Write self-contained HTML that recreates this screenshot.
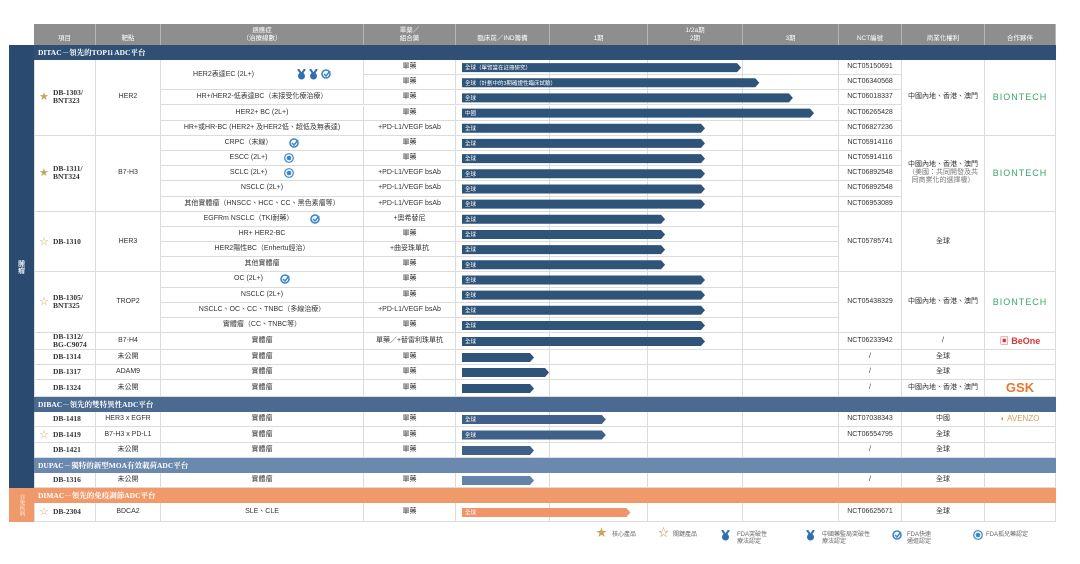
<!DOCTYPE html>
<html><head><meta charset="utf-8">
<style>
html,body{margin:0;padding:0;background:#fff;}
#root{position:relative;width:1080px;height:564px;overflow:hidden;background:#fff;font-family:"Liberation Sans","Noto Sans CJK TC",sans-serif;color:#333;}
.c{position:absolute;box-sizing:border-box;border-right:1px solid #dcdcdc;border-bottom:1px solid #dcdcdc;display:flex;align-items:center;justify-content:center;text-align:center;font-size:7px;line-height:8px;white-space:nowrap;}
.h{position:absolute;box-sizing:border-box;background:#8e8e8e;color:#fff;border-right:1px solid #b5b5b5;display:flex;flex-direction:column;align-items:center;justify-content:flex-end;padding-bottom:3px;font-size:6.5px;line-height:7.5px;text-align:center;}
.band{position:absolute;color:#fff;font-family:"Liberation Serif","Noto Serif CJK SC",serif;font-weight:bold;font-size:7.5px;display:flex;align-items:center;padding-left:4px;box-sizing:border-box;}
.item{font-family:"Liberation Serif",serif;font-weight:bold;font-size:7.5px;text-align:left;justify-content:flex-start;padding-left:18px;}
.leg{position:absolute;font-size:6px;line-height:7px;color:#666;}
</style></head>
<body>
<div id="root">
<svg id="bars" width="1080" height="564" style="position:absolute;left:0;top:0;z-index:2;pointer-events:none"></svg>
</div>
<script>
// ---- data ----
const indications=["HER2表達EC (2L+)","","HR+/HER2-低表達BC（未接受化療治療）","HER2+ BC (2L+)","HR+或HR-BC (HER2+ 及HER2低、超低及無表達)","CRPC（末線）","ESCC (2L+)","SCLC (2L+)","NSCLC (2L+)","其他實體瘤（HNSCC、HCC、CC、黑色素瘤等）","EGFRm NSCLC（TKI耐藥）","HR+ HER2-BC","HER2陽性BC（Enhertu經治）","其他實體瘤","OC (2L+)","NSCLC (2L+)","NSCLC、OC、CC、TNBC（多線治療）","實體瘤（CC、TNBC等）","實體瘤","實體瘤","實體瘤","實體瘤","實體瘤","實體瘤","實體瘤","實體瘤","SLE、CLE"];
const combos=["單藥","單藥","單藥","單藥","+PD-L1/VEGF bsAb","單藥","單藥","+PD-L1/VEGF bsAb","+PD-L1/VEGF bsAb","+PD-L1/VEGF bsAb","+奧希替尼","單藥","+曲妥珠單抗","單藥","單藥","單藥","+PD-L1/VEGF bsAb","單藥","單藥／+替雷利珠單抗","單藥","單藥","單藥","單藥","單藥","單藥","單藥","單藥"];
const barLabels=["全球（單臂當在註冊研究）","全球（計劃中的3期確證性臨床試驗）","全球","中國","全球","全球","全球","全球","全球","全球","全球","全球","全球","全球","全球","全球","全球","全球","全球","","","","全球","全球","","","全球"];
const barValues=[2.98,3.17,3.52,3.74,2.60,2.60,2.60,2.60,2.60,2.60,2.18,2.18,2.18,2.18,2.60,2.60,2.60,2.60,2.60,0.83,0.99,0.83,1.57,1.57,0.83,0.83,1.82];
const nctIds=["NCT05150691","NCT06340568","NCT06018337","NCT06265428","NCT06827236","NCT05914116","NCT05914116","NCT06892548","NCT06892548","NCT06953089","NCT05785741","","","","NCT05438329","","","","NCT06233942","/","/","/","NCT07038343","NCT06554795","/","/","NCT06625671"];
const phaseHeaders=["臨床前／IND籌備","1期","1/2a期<br>2期","3期"];
// ---- layout ----
const colX=[34,96,161,364,456,550,648,743,839,902,985,1056];
const phaseEdges=[456,550,648,743,839];
function px(v){const i=Math.min(3,Math.floor(v));return phaseEdges[i]+(v-i)*(phaseEdges[i+1]-phaseEdges[i]);}
const seq=["B0"];for(let i=0;i<18;i++)seq.push(15.17);seq.push(17,15,15,17,"B1",15,16,15,"B2",15,"B3",19);
const bands=[["DITAC－領先的TOP1i ADC平台","#2f4f74"],["DIBAC－領先的雙特異性ADC平台","#4a6a92"],["DUPAC－獨特的新型MOA有效載荷ADC平台","#6b89ae"],["DIMAC－領先的免疫調節ADC平台","#f09a6c"]];
const barColor=i=>i>=26?"#f0956a":i>=25?"#6283aa":i>=22?"#3f6189":"#2f5479";
const root=document.getElementById('root'),svg=document.getElementById('bars');
function div(cls,x,y,w,h,html){const d=document.createElement('div');d.className=cls;d.style.left=x+'px';d.style.top=y+'px';d.style.width=w+'px';d.style.height=h+'px';d.innerHTML=html||'';root.appendChild(d);return d;}
// header
const hdr=["項目","靶點","適應症<br>（治療線數）","單藥／<br>組合藥",phaseHeaders[0],phaseHeaders[1],phaseHeaders[2],phaseHeaders[3],"NCT編號","商業化權利","合作夥伴"];
for(let i=0;i<11;i++){const d=div('h',colX[i],24,colX[i+1]-colX[i],21,hdr[i]);

}
// rows
const rowY=[],rowH=[];let y=45;
for(const s of seq){if(typeof s==='string'){const b=bands[+s[1]];const d=div('band',34,y,1022,15,b[0]);d.style.background=b[1];


y+=15;}else{rowY.push(y);rowH.push(s);y+=s;}}
// left side bars
let d=div('band',9,45,25,443,'');d.style.background='#2b4a70';d.style.padding='0';d.style.justifyContent='center';d.style.writingMode='vertical-rl';d.style.fontSize='7px';d.innerHTML='腫瘤';


d=div('band',9,488,25,34,'自免疾病');d.style.background='#f09a6c';d.style.padding='0';d.style.justifyContent='center';d.style.writingMode='vertical-rl';d.style.fontSize='5.5px';d.style.fontWeight='normal';


function span(col,r0,r1,html,cls){const x=colX[col],yy=rowY[r0],h=rowY[r1]+rowH[r1]-yy;const e=div('c'+(cls?' '+cls:''),x,yy,colX[col+1]-x,h,html);if(col===0)e.style.borderLeft='1px solid #dcdcdc';return e;}
const STAR='<span style="position:absolute;left:4px;color:#c8a45a;font-size:11px;font-weight:normal">★</span>';
const OSTAR='<span style="position:absolute;left:4px;color:#c8a45a;font-size:11px;font-weight:normal">☆</span>';
const groups=[[0,4,STAR+"<div>DB-1303/<br>BNT323</div>","HER2"],[5,9,STAR+"<div>DB-1311/<br>BNT324</div>","B7-H3"],[10,13,OSTAR+"DB-1310","HER3"],[14,17,OSTAR+"<div>DB-1305/<br>BNT325</div>","TROP2"],[18,18,"<div>DB-1312/<br>BG-C9074</div>","B7-H4"],[19,19,"DB-1314","未公開"],[20,20,"DB-1317","ADAM9"],[21,21,"DB-1324","未公開"],[22,22,"DB-1418","HER3 x EGFR"],[23,23,OSTAR+"DB-1419","B7-H3 x PD-L1"],[24,24,"DB-1421","未公開"],[25,25,"DB-1316","未公開"],[26,26,OSTAR+"DB-2304","BDCA2"]];
const BION='<span style="font-family:Liberation Sans,sans-serif;font-size:9px;letter-spacing:1px;color:#3aa66a">BIONTECH</span>';
const rights=[[0,4,"中國內地、香港、澳門",BION],[5,9,"<div>中國內地、香港、澳門<br><span style='color:#777'>（美國：共同開發及共<br>同商業化的選擇權）</span></div>",BION],[10,13,"全球",""],[14,17,"中國內地、香港、澳門",BION],[18,18,"/",'<span style="color:#d33;font-weight:bold;font-size:9px">▣ BeOne</span>'],[19,19,"全球",""],[20,20,"全球",""],[21,21,"中國內地、香港、澳門",'<span style="color:#e8772e;font-weight:bold;font-size:13px">GSK</span>'],[22,22,"中國",'<span style="color:#c9a05a;font-size:8px">◐ AVENZO</span>'],[23,23,"全球",""],[24,24,"全球",""],[25,25,"全球",""],[26,26,"全球",""]];
for(const g of groups){let e=span(0,g[0],g[1],g[2],'item');


e=span(1,g[0],g[1],g[3]);

}
for(const r of rights){let e=span(9,r[0],r[1],r[2]);


e=span(10,r[0],r[1],r[3]);

}
// icons
const MEDAL='<svg width="9" height="11" style="margin-left:3px"><path d="M1 0L4.5 5L8 0" fill="none" stroke="#2f6fb0" stroke-width="2"/><circle cx="4.5" cy="7" r="3.5" fill="#2f6fb0"/></svg>';
const CHECK='<svg width="10" height="10" style="margin-left:3px"><circle cx="5" cy="5" r="4" fill="none" stroke="#3a86c8" stroke-width="1.6"/><path d="M3 5L5 7L9 2" fill="none" stroke="#3a86c8" stroke-width="1.5"/></svg>';
const TARGET='<svg width="10" height="10" style="margin-left:3px"><circle cx="5" cy="5" r="4.3" fill="none" stroke="#3a86c8" stroke-width="1.2"/><circle cx="5" cy="5" r="2.3" fill="#3a86c8"/></svg>';
const icons={0:MEDAL+MEDAL+CHECK,5:CHECK,6:TARGET,7:TARGET,10:CHECK,14:CHECK};
for(let i=0;i<27;i++){
 if(i===1)continue;
 const e=span(2,i,i===0?1:i,indications[i]+(icons[i]?'<span style="margin-left:14px;display:inline-flex">'+icons[i]+'</span>':''));
 if(i===0)e.innerHTML=indications[0]+'<span style="margin-left:40px;display:inline-flex">'+icons[0]+'</span>';
 
 
}
for(let i=0;i<27;i++){
 let e=span(3,i,i,combos[i]);
 
 
 for(let p=4;p<8;p++){const c=span(p,i,i,'');
 
 }
 if(nctIds[i]!==''){let r1=i;if(i===10)r1=13;if(i===14)r1=17;
 e=span(8,i,r1,nctIds[i]);
 
 }
}
// bars
const NS='http://www.w3.org/2000/svg';
for(let i=0;i<barValues.length;i++){
 const x0=462,x1=px(barValues[i]),ym=rowY[i]+rowH[i]/2,y0=ym-4.5,y1=ym+4.5;
 const pg=document.createElementNS(NS,'polygon');
 pg.setAttribute('points',`${x0},${y0} ${x1-4},${y0} ${x1},${ym} ${x1-4},${y1} ${x0},${y1}`);
 pg.setAttribute('fill',barColor(i));
 
 
 svg.appendChild(pg);
 if(barLabels[i]){const t=document.createElementNS(NS,'text');t.setAttribute('x',x0+3);t.setAttribute('y',ym+2);t.setAttribute('font-size','5.5');t.setAttribute('fill','#fff');t.setAttribute('font-family','Liberation Sans, Noto Sans CJK TC, sans-serif');t.textContent=barLabels[i];
 
 
 svg.appendChild(t);}
}
// legend
const legend=[[596,'<span style="color:#c8a45a;font-size:11px">★</span>',612,'核心產品'],[658,'<span style="color:#c8a45a;font-size:11px">☆</span>',673,'關鍵產品'],[718,MEDAL,737,'FDA突破性<br>療法認定'],[803,MEDAL,822,'中國藥監局突破性<br>療法認定'],[889,CHECK,907,'FDA快速<br>通道認定'],[970,TARGET,986,'FDA孤兒藥認定']];
for(const l of legend){let e=div('leg',l[0],530,16,14,l[1]);


e=div('leg',l[2],532,80,16,l[3]);

}
</script>
</body></html>
